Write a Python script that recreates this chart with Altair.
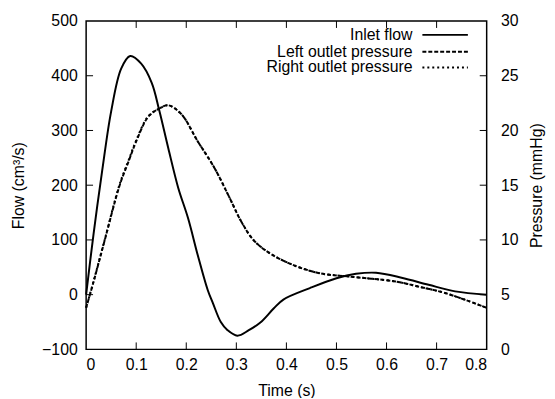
import altair as alt
import pandas as pd

# ---- data ----
time_flow = [0, 0.015, 0.032, 0.05, 0.07, 0.088, 0.11, 0.131, 0.146, 0.164, 0.184,
             0.2035, 0.223, 0.243, 0.253, 0.269, 0.2825, 0.302, 0.325, 0.348, 0.375,
             0.394, 0.447, 0.5, 0.539, 0.579, 0.63, 0.684, 0.737, 0.8]
inlet_flow = [0, 112, 226, 335, 413, 436, 422, 387, 337, 268, 195,
              140, 72, 8, -15, -50, -65, -75, -65, -51, -25,
              -9, 12, 30, 38, 40, 31, 18, 6, 0]

time_p = [0, 0.015, 0.037, 0.067, 0.085, 0.1, 0.124, 0.146, 0.164, 0.19, 0.223,
          0.256, 0.286, 0.309, 0.335, 0.368, 0.414, 0.467, 0.526, 0.618, 0.667, 0.717, 0.8]
left_p = [3.8, 6.2, 9.95, 15.0, 17.2, 19.0, 21.25, 22.0, 22.3, 21.5, 19.0,
          16.6, 13.9, 11.75, 9.95, 8.75, 7.7, 6.95, 6.65, 6.2, 5.7, 5.15, 3.8]
right_p = [3.8, 6.25, 10.0, 15.1, 17.3, 19.1, 21.3, 22.0, 22.3, 21.5, 19.0,
           16.6, 13.9, 11.75, 9.95, 8.75, 7.7, 6.95, 6.65, 6.2, 5.7, 5.15, 3.8]

series_names = ["Inlet flow", "Left outlet pressure", "Right outlet pressure"]
x_ticks = [0.1, 0.2, 0.3, 0.4, 0.5, 0.6, 0.7]
flow_ticks = [0, 100, 200, 300, 400]
p_ticks = [5, 10, 15, 20, 25]

W, H = 405, 332
FONT = "Liberation Sans"
FS = 16

flow_df = pd.DataFrame({"t": time_flow, "v": inlet_flow})
lp_df = pd.DataFrame({"t": time_p, "p": left_p})
rp_df = pd.DataFrame({"t": time_p, "p": right_p})
xt_df = pd.DataFrame({"t": x_ticks})
ft_df = pd.DataFrame({"v": flow_ticks})
pt_df = pd.DataFrame({"p": p_ticks})

xscale = alt.Scale(domain=[0, 0.8], nice=False, zero=False)
fscale = alt.Scale(domain=[-100, 500], nice=False, zero=False)
pscale = alt.Scale(domain=[0, 30], nice=False, zero=False)

common = dict(ticks=False, domain=False, grid=False, labelFont=FONT, titleFont=FONT,
              labelFontSize=FS, titleFontSize=FS, labelColor="black", titleColor="black",
              titleFontWeight="normal")
x_axis = alt.Axis(title="Time (s)", values=[0, 0.1, 0.2, 0.3, 0.4, 0.5, 0.6, 0.7, 0.8],
                  format=".1~f", labelPadding=7, titlePadding=11, **common)
f_axis = alt.Axis(title="Flow (cm³/s)", orient="left", values=[-100, 0, 100, 200, 300, 400, 500],
                  labelPadding=9, titlePadding=15, **common)
p_axis = alt.Axis(title="Pressure (mmHg)", orient="right", values=[0, 5, 10, 15, 20, 25, 30],
                  labelPadding=14, titlePadding=27, titleAngle=270, **common)

flow_line = alt.Chart(flow_df).mark_line(color="black", strokeWidth=2, interpolate="catmull-rom").encode(
    x=alt.X("t:Q", scale=xscale, axis=x_axis),
    y=alt.Y("v:Q", scale=fscale, axis=f_axis),
)
left_ticks = alt.Chart(ft_df).mark_rule(color="black", strokeWidth=1).encode(
    y=alt.Y("v:Q", scale=fscale, axis=f_axis), x=alt.value(0), x2=alt.value(7))
bottom_ticks = alt.Chart(xt_df).mark_rule(color="black", strokeWidth=1).encode(
    x=alt.X("t:Q", scale=xscale, axis=x_axis), y=alt.value(H), y2=alt.value(H - 7))
top_ticks = alt.Chart(xt_df).mark_rule(color="black", strokeWidth=1).encode(
    x=alt.X("t:Q", scale=xscale, axis=x_axis), y=alt.value(0), y2=alt.value(7))

flow_layer = alt.layer(flow_line, left_ticks, bottom_ticks, top_ticks)

lp_line = alt.Chart(lp_df).mark_line(color="black", strokeWidth=2, strokeDash=[4, 2],
                                     interpolate="catmull-rom").encode(
    x=alt.X("t:Q", scale=xscale, axis=x_axis),
    y=alt.Y("p:Q", scale=pscale, axis=p_axis),
)
rp_line = alt.Chart(rp_df).mark_line(color="black", strokeWidth=2, strokeDash=[2, 3],
                                     interpolate="catmull-rom").encode(
    x=alt.X("t:Q", scale=xscale, axis=x_axis),
    y=alt.Y("p:Q", scale=pscale, axis=p_axis),
)
right_ticks = alt.Chart(pt_df).mark_rule(color="black", strokeWidth=1).encode(
    y=alt.Y("p:Q", scale=pscale, axis=p_axis), x=alt.value(W), x2=alt.value(W - 7))

p_layer = alt.layer(lp_line, rp_line, right_ticks)

# legend (manual, gnuplot style: label then sample line)
dashes = [None, [4, 2], [2, 3]]
rows_y = [14, 31, 47]
legend_layers = []
for name, dash, yy in zip(series_names, dashes, rows_y):
    txt = alt.Chart(pd.DataFrame({"n": [name]})).mark_text(
        align="right", baseline="middle", font=FONT, fontSize=FS, color="black"
    ).encode(text="n:N", x=alt.value(330), y=alt.value(yy))
    kw = dict(color="black", strokeWidth=2)
    if dash is not None:
        kw["strokeDash"] = dash
    ln = alt.Chart(pd.DataFrame({"n": [name]})).mark_rule(**kw).encode(
        x=alt.value(340), x2=alt.value(386), y=alt.value(yy))
    legend_layers += [txt, ln]

chart = alt.layer(flow_layer, p_layer, *legend_layers).resolve_scale(y="independent").properties(
    width=W, height=H,
    background="white",
    autosize=alt.AutoSizeParams(type="none"),
    padding={"left": 79, "top": 11, "right": 61, "bottom": 47},
).configure_view(stroke="black", strokeWidth=1.5)

chart.save("out.html", embed_options={"renderer": "svg", "actions": False})
